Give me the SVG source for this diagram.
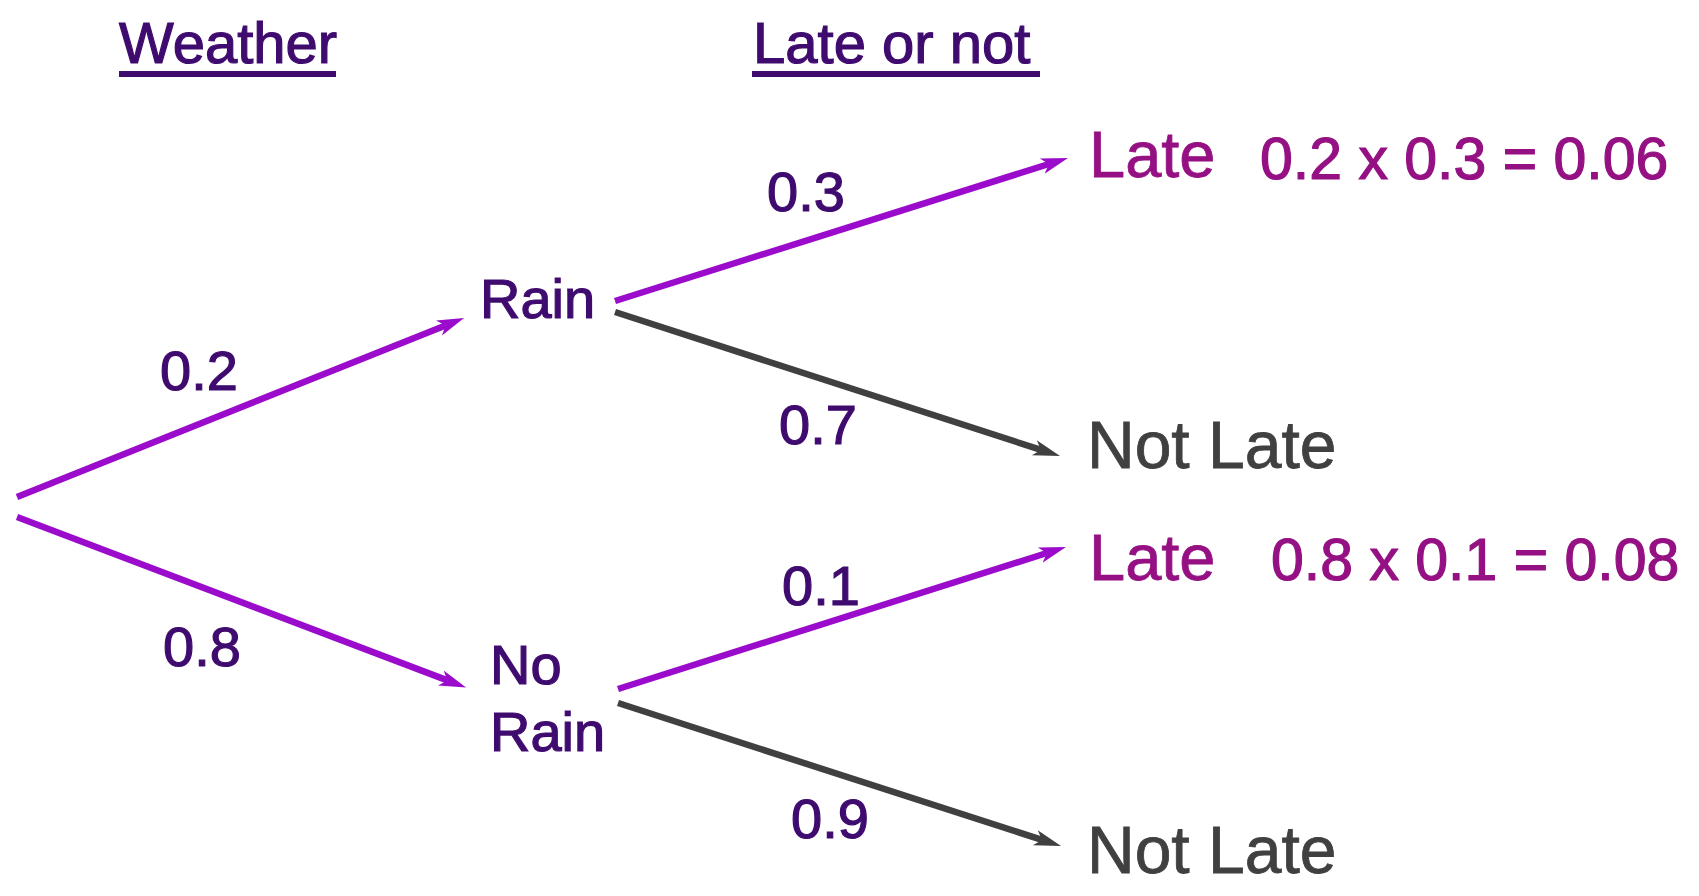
<svg xmlns="http://www.w3.org/2000/svg" width="1699" height="896" viewBox="0 0 1699 896">
<style>
text{font-family:"Liberation Sans",Arial,sans-serif;stroke-width:1.2px}
.h{fill:#3F0B6F;stroke:#3F0B6F;font-size:58px}
.p{fill:#3F0B6F;stroke:#3F0B6F;font-size:56px}
.n{fill:#3F0B6F;stroke:#3F0B6F;font-size:56px}
.late{fill:#951183;stroke:#951183;font-size:65px;stroke-width:0.8px}
.calc{fill:#951183;stroke:#951183;font-size:59px}
.nl{fill:#404040;stroke:#404040;font-size:66px;stroke-width:0.8px}
.ep{stroke:#9A0BCB;stroke-width:6.5;fill:none;marker-end:url(#ap)}
.eg{stroke:#404040;stroke-width:6.5;fill:none;marker-end:url(#ag)}
</style>
<defs>
<marker id="ap" markerUnits="userSpaceOnUse" markerWidth="32" markerHeight="22" refX="7" refY="11" orient="auto" viewBox="0 0 32 22"><path d="M0,3 L27,11 L0,19 L7,11 Z" fill="#9A0BCB"/></marker>
<marker id="ag" markerUnits="userSpaceOnUse" markerWidth="32" markerHeight="22" refX="7" refY="11" orient="auto" viewBox="0 0 32 22"><path d="M0,3 L27,11 L0,19 L7,11 Z" fill="#404040"/></marker>
</defs>
<rect width="1699" height="896" fill="#fff"/>
<g id="headers">
<text class="h" x="119" y="63">Weather</text>
<rect x="119" y="71" width="217" height="6" fill="#3F0B6F"/>
<text class="h" x="753" y="63">Late or not</text>
<rect x="752" y="71" width="288" height="6" fill="#3F0B6F"/>
</g>
<g id="connectors">
<line class="ep" x1="17" y1="497" x2="445.5" y2="325.4"/>
<line class="ep" x1="17" y1="517" x2="447.4" y2="680.4"/>
<line class="ep" x1="615" y1="301" x2="1048.9" y2="164"/>
<line class="eg" x1="615" y1="312" x2="1041" y2="449.9"/>
<line class="ep" x1="618" y1="689" x2="1046.9" y2="553"/>
<line class="eg" x1="618" y1="703" x2="1042" y2="839.9"/>
<text class="n" x="160" y="390">0.2</text>
<text class="n" x="163" y="666">0.8</text>
<text class="n" x="767" y="211">0.3</text>
<text class="n" x="779" y="444">0.7</text>
<text class="n" x="782" y="605">0.1</text>
<text class="n" x="791" y="838">0.9</text>
</g>
<g id="rain"><text class="p" x="480" y="318">Rain</text></g>
<g id="norain"><text class="p" x="490" y="684">No</text><text class="p" x="490" y="751">Rain</text></g>
<g id="late1"><text class="late" x="1089" y="177">Late</text><text class="calc" x="1260" y="179">0.2 x 0.3 = 0.06</text></g>
<g id="notlate1"><text class="nl" x="1087" y="468">Not Late</text></g>
<g id="late2"><text class="late" x="1089" y="580">Late</text><text class="calc" x="1271" y="580">0.8 x 0.1 = 0.08</text></g>
<g id="notlate2"><text class="nl" x="1087" y="873">Not Late</text></g>
</svg>
